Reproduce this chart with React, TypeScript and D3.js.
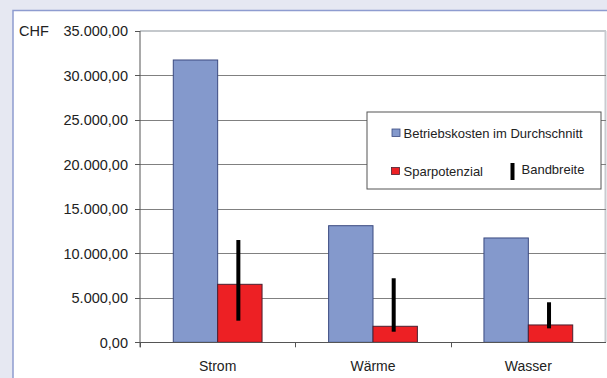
import React from "react";
import * as d3 from "d3";

const categories = ["Strom", "Wärme", "Wasser"];
const betriebskosten = [31740, 13110, 11730];
const sparpotenzial = [6520, 1800, 1950];
const bandLow = [2430, 1190, 1570];
const bandHigh = [11500, 7200, 4500];
const yTicks = [0, 5000, 10000, 15000, 20000, 25000, 30000, 35000];
const legendLabels = ["Betriebskosten im Durchschnitt", "Sparpotenzial", "Bandbreite"];

const W = 607;
const H = 378;
const FONT = "Liberation Sans, Arial, sans-serif";

export default function App() {
  const left = 140;
  const right = 606;
  const top = 31;
  const bottom = 342.3;
  const x = d3.scaleBand<string>().domain(categories).range([left, right]).paddingInner(0).paddingOuter(0);
  const y = d3.scaleLinear().domain([0, 35000]).range([bottom, top]);
  const bw = x.bandwidth();
  const barW = bw / 3.5;
  const fmt = (v: number) => d3.format(",.2f")(v).replace(/,/g, "X").replace(/\./g, ",").replace(/X/g, ".");

  return (
    <svg width={W} height={H} style={{ position: "absolute", left: 0, top: 0, display: "block" }}>
      <rect x={0} y={0} width={W} height={H} fill="#e6e8f2" />
      <rect x={13} y={10.5} width={W} height={H} fill="#ffffff" stroke="#8e9cd0" strokeWidth={1.5} />
      {/* plot area border */}
      <line x1={left} x2={right} y1={y(35000)} y2={y(35000)} stroke="#c4c8cc" strokeWidth={2} />
      <line x1={605.5} x2={605.5} y1={top} y2={bottom} stroke="#c8cbd0" strokeWidth={2} />
      {/* gridlines */}
      {yTicks.filter((t) => t > 0 && t < 35000).map((t) => (
        <line key={t} x1={left} x2={right} y1={Math.round(y(t)) + 0.5} y2={Math.round(y(t)) + 0.5} stroke="#808080" strokeWidth={1} />
      ))}
      {/* y ticks & labels */}
      {yTicks.map((t) => (
        <g key={"t" + t}>
          <line x1={135} x2={left} y1={Math.round(y(t)) + 0.5} y2={Math.round(y(t)) + 0.5} stroke="#555" strokeWidth={1} />
          <text x={128} y={y(t) + 5.3} textAnchor="end" fontFamily={FONT} fontSize={14.5} fill="#222">
            {fmt(t)}
          </text>
        </g>
      ))}
      <text x={19} y={y(35000) + 5.3} fontFamily={FONT} fontSize={14.5} fill="#222">CHF</text>
      {/* bars */}
      {categories.map((c, i) => {
        const cx = (x(c) as number) + bw / 2;
        return (
          <g key={c}>
            <rect x={cx - barW} y={y(betriebskosten[i])} width={barW} height={bottom - y(betriebskosten[i])} fill="#8499cc" stroke="#3b4a80" strokeWidth={1} />
            <rect x={cx} y={y(sparpotenzial[i])} width={barW} height={bottom - y(sparpotenzial[i])} fill="#ed2024" stroke="#4a2030" strokeWidth={1} />
            <rect x={cx + barW / 2 - 3.5} y={y(bandHigh[i])} width={4} height={y(bandLow[i]) - y(bandHigh[i])} fill="#000" />
          </g>
        );
      })}
      {/* axes */}
      <line x1={left} x2={left} y1={top} y2={bottom + 5} stroke="#555" strokeWidth={1} />
      <line x1={left} x2={right} y1={Math.round(bottom) + 0.5} y2={Math.round(bottom) + 0.5} stroke="#555" strokeWidth={1} />
      {categories.map((c) => (
        <line key={"xt" + c} x1={Math.round(x(c) as number) + 0.5} x2={Math.round(x(c) as number) + 0.5} y1={bottom} y2={bottom + 5} stroke="#555" strokeWidth={1} />
      ))}
      {categories.map((c) => (
        <text key={"xl" + c} x={(x(c) as number) + bw / 2} y={370.5} textAnchor="middle" fontFamily={FONT} fontSize={14} fill="#222">
          {c}
        </text>
      ))}
      {/* legend */}
      <rect x={367} y={112} width={234} height={77} fill="#fff" stroke="#555" strokeWidth={1} />
      <rect x={392} y={129} width={8} height={7.5} fill="#8499cc" stroke="#3b4a80" strokeWidth={0.8} />
      <text x={403.5} y={137.5} fontFamily={FONT} fontSize={13} fill="#222">{legendLabels[0]}</text>
      <rect x={391.5} y={167.5} width={8} height={7} fill="#ed2024" stroke="#4a2030" strokeWidth={0.8} />
      <text x={403.5} y={176} fontFamily={FONT} fontSize={13} fill="#222">{legendLabels[1]}</text>
      <rect x={510.5} y={163} width={4} height={17} fill="#000" />
      <text x={521.5} y={174} fontFamily={FONT} fontSize={13} fill="#222">{legendLabels[2]}</text>
    </svg>
  );
}
